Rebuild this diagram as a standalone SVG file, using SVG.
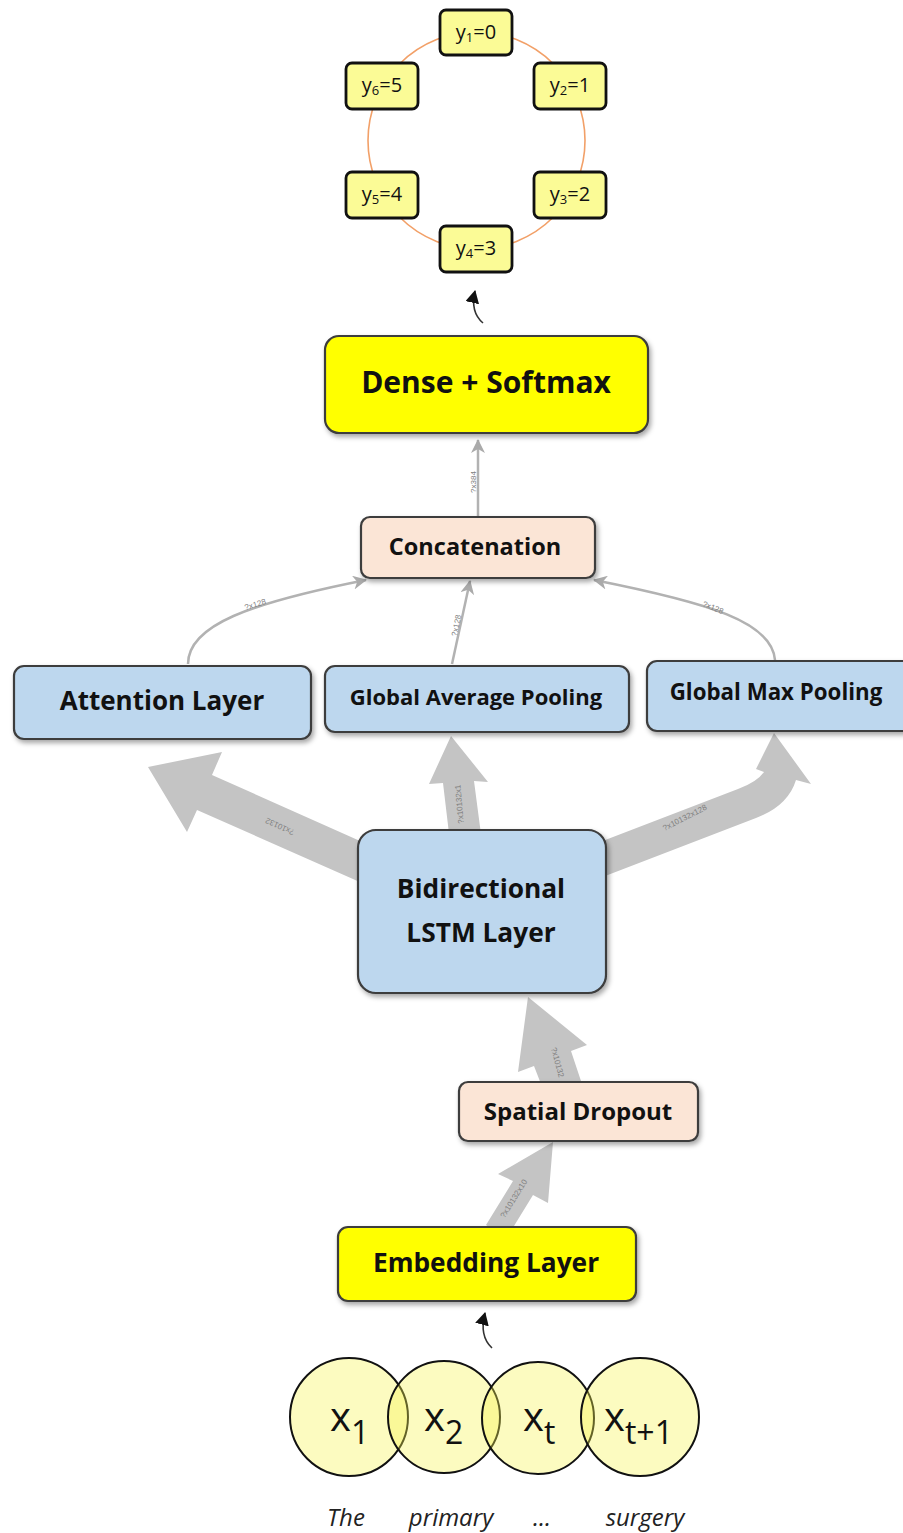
<svg xmlns="http://www.w3.org/2000/svg" width="903" height="1533" viewBox="0 0 903 1533">
<style>
.box{stroke:#3c3c3c;stroke-width:2.2}
.yel{fill:#ffff00}
.blue{fill:#bdd7ee}
.peach{fill:#fbe5d6}
.ybox{fill:#fbfb96;stroke:#111;stroke-width:2.8}
.lbl{font-family:"Open Sans","Liberation Sans",sans-serif;font-weight:700;fill:#111;text-anchor:middle}
.ylbl{font-family:"Open Sans","Liberation Sans",sans-serif;font-size:20px;fill:#111;text-anchor:middle}
.thin{fill:none;stroke:#b2b2b2;stroke-width:2.5}
.wide{fill:#c4c4c4}
.elbl{font-family:"Liberation Sans",sans-serif;font-size:8px;fill:#808080;text-anchor:middle}
.xc{fill:#f8f450;fill-opacity:0.36;stroke:#111;stroke-width:2}
.xt{font-family:"Open Sans","Liberation Sans",sans-serif;fill:#111}
.word{font-family:"Open Sans","Liberation Sans",sans-serif;font-style:italic;font-size:24px;fill:#222;text-anchor:middle}
</style>
<defs>
<filter id="sh" x="-10%" y="-10%" width="125%" height="135%">
<feDropShadow dx="2" dy="3" stdDeviation="2.5" flood-color="#000" flood-opacity="0.35"/>
</filter>
<marker id="ga" markerUnits="userSpaceOnUse" markerWidth="16" markerHeight="14" refX="13" refY="7" orient="auto">
<path d="M0,0 L14,7 L0,14 L4,7 Z" fill="#aaaaaa"/>
</marker>
<marker id="ba" markerUnits="userSpaceOnUse" markerWidth="14" markerHeight="14" refX="12" refY="7" orient="auto">
<path d="M0,0 L13,7 L0,14 Z" fill="#111"/>
</marker>
</defs>

<!-- ring -->
<circle cx="476.5" cy="140.5" r="108.5" fill="none" stroke="#f2a068" stroke-width="1.6"/>

<g id="connectors">
<!-- wide arrows -->
<polygon class="wide" points="148,767 222,752 212,775 378,849 362,883 197,810 187,832"/>
<polygon class="wide" points="451,736 488,782 474,781 482,842 450,842 443,783 429,784"/>
<path class="wide" d="M600,842 L738,789 Q757,782 764,772 L756,769 L774,733 L811,784 L796,780 Q788,806 756,818 L600,878 Z"/>
<polygon class="wide" points="553,1142 548,1203 533,1195 506,1239 486,1225 513,1181 498,1174"/>
<polygon class="wide" points="528,997 587,1045 571,1051 584,1090 546,1097 534,1066 518,1072"/>
<text class="elbl" transform="translate(281,824) rotate(205)">?x10132</text>
<text class="elbl" transform="translate(462,804) rotate(-95)">?x10132x1</text>
<text class="elbl" transform="translate(686,820) rotate(-27)">?x10132x128</text>
<text class="elbl" transform="translate(516,1200) rotate(-58)">?x10132x10</text>
<text class="elbl" transform="translate(555,1063) rotate(75)">?x10132</text>
<!-- thin arrows -->
<path class="thin" d="M478,517 L478,440" marker-end="url(#ga)"/>
<path class="thin" d="M188,664 C188,625 250,603 366,580" marker-end="url(#ga)"/>
<path class="thin" d="M452,664 L470,581" marker-end="url(#ga)"/>
<path class="thin" d="M775,660 C772,622 710,603 594,580" marker-end="url(#ga)"/>
<text class="elbl" transform="translate(476,482) rotate(-90)">?x384</text>
<text class="elbl" transform="translate(256,607) rotate(-17)">?x128</text>
<text class="elbl" transform="translate(459,626) rotate(-78)">?x128</text>
<text class="elbl" transform="translate(712,610) rotate(22)">?x128</text>
<!-- small black arrows -->
<path d="M483,323 Q470,312 475,291" fill="none" stroke="#333" stroke-width="1.6" marker-end="url(#ba)"/>
<path d="M492,1348 Q479,1336 485,1313" fill="none" stroke="#333" stroke-width="1.6" marker-end="url(#ba)"/>
</g>

<g id="y1"><rect class="ybox" x="440" y="10" width="72" height="45" rx="6"/><text class="ylbl" x="476" y="39">y<tspan font-size="13" dy="3">1</tspan><tspan dy="-3">=0</tspan></text></g>
<g id="y2"><rect class="ybox" x="534" y="63" width="72" height="46" rx="6"/><text class="ylbl" x="570" y="92">y<tspan font-size="13" dy="3">2</tspan><tspan dy="-3">=1</tspan></text></g>
<g id="y3"><rect class="ybox" x="534" y="172" width="72" height="46" rx="6"/><text class="ylbl" x="570" y="201">y<tspan font-size="13" dy="3">3</tspan><tspan dy="-3">=2</tspan></text></g>
<g id="y4"><rect class="ybox" x="440" y="226" width="72" height="46" rx="6"/><text class="ylbl" x="476" y="255">y<tspan font-size="13" dy="3">4</tspan><tspan dy="-3">=3</tspan></text></g>
<g id="y5"><rect class="ybox" x="346" y="172" width="72" height="46" rx="6"/><text class="ylbl" x="382" y="201">y<tspan font-size="13" dy="3">5</tspan><tspan dy="-3">=4</tspan></text></g>
<g id="y6"><rect class="ybox" x="346" y="63" width="72" height="46" rx="6"/><text class="ylbl" x="382" y="92">y<tspan font-size="13" dy="3">6</tspan><tspan dy="-3">=5</tspan></text></g>

<g id="dense"><rect class="box yel" filter="url(#sh)" x="325" y="336" width="323" height="97" rx="14"/><text class="lbl" x="486" y="393" font-size="30">Dense + Softmax</text></g>
<g id="concat"><rect class="box peach" filter="url(#sh)" x="361" y="517" width="234" height="61" rx="9"/><text class="lbl" x="475" y="555" font-size="23.5">Concatenation</text></g>
<g id="attention"><rect class="box blue" filter="url(#sh)" x="14" y="666" width="297" height="73" rx="10"/><text class="lbl" x="162" y="710" font-size="26">Attention Layer</text></g>
<g id="gap"><rect class="box blue" filter="url(#sh)" x="325" y="666" width="304" height="66" rx="10"/><text class="lbl" x="476" y="705" font-size="22">Global Average Pooling</text></g>
<g id="gmp"><rect class="box blue" filter="url(#sh)" x="647" y="661" width="270" height="70" rx="10"/><text class="lbl" x="776" y="700" font-size="22.3">Global Max Pooling</text></g>
<g id="lstm"><rect class="box blue" filter="url(#sh)" x="358" y="830" width="248" height="163" rx="18"/><text class="lbl" x="481" y="898" font-size="26.3">Bidirectional</text><text class="lbl" x="481" y="942" font-size="26.3">LSTM Layer</text></g>
<g id="dropout"><rect class="box peach" filter="url(#sh)" x="459" y="1082" width="239" height="59" rx="9"/><text class="lbl" x="578" y="1120" font-size="24">Spatial Dropout</text></g>
<g id="embedding"><rect class="box yel" filter="url(#sh)" x="338" y="1227" width="298" height="74" rx="10"/><text class="lbl" x="486" y="1272" font-size="26.3">Embedding Layer</text></g>

<g id="inputs">
<circle class="xc" cx="349" cy="1417" r="59"/>
<circle class="xc" cx="444" cy="1417" r="56"/>
<circle class="xc" cx="538" cy="1418" r="56"/>
<circle class="xc" cx="640" cy="1417" r="59"/>
<text class="xt" x="330" y="1431" font-size="40">x<tspan font-size="32" dy="13">1</tspan></text>
<text class="xt" x="424" y="1431" font-size="40">x<tspan font-size="32" dy="13">2</tspan></text>
<text class="xt" x="523" y="1431" font-size="40">x<tspan font-size="32" dy="13">t</tspan></text>
<text class="xt" x="604" y="1431" font-size="40">x<tspan font-size="32" dy="13">t+1</tspan></text>
<text class="word" x="346" y="1526">The</text>
<text class="word" x="451" y="1526">primary</text>
<text class="word" x="542" y="1526">...</text>
<text class="word" x="645" y="1526">surgery</text>
</g>
</svg>
